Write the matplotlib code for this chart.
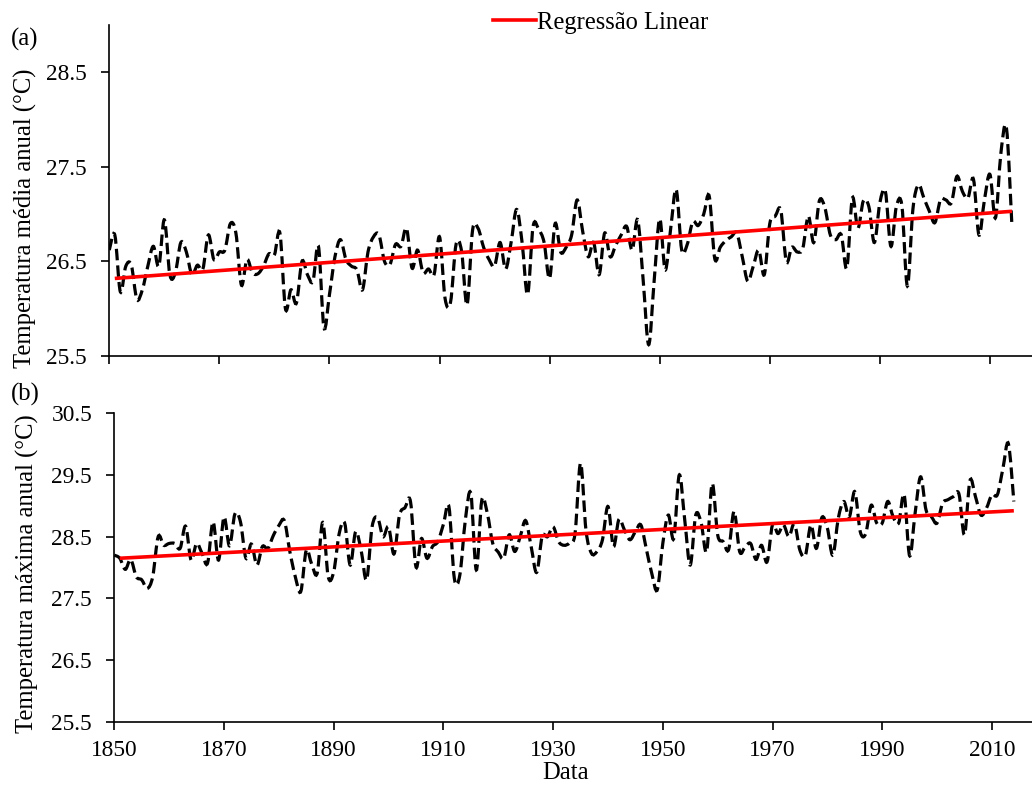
import matplotlib
matplotlib.use("Agg")
import matplotlib.pyplot as plt
from matplotlib.lines import Line2D
from matplotlib.path import Path
from matplotlib.patches import PathPatch
import numpy as np

plt.rcParams['font.family'] = ['Liberation Serif', 'DejaVu Serif']

years = list(range(1850, 2015))

media_anual = [
    26.62, 26.78, 26.18, 26.45, 26.46, 26.10, 26.20, 26.45, 26.66, 26.45,
    26.94, 26.36, 26.38, 26.70, 26.60, 26.36, 26.46, 26.42, 26.78, 26.52,
    26.60, 26.62, 26.90, 26.80, 26.25, 26.52, 26.38, 26.37, 26.45, 26.58,
    26.57, 26.80, 26.00, 26.20, 26.06, 26.50, 26.36, 26.29, 26.66, 25.80,
    26.15, 26.55, 26.73, 26.52, 26.45, 26.41, 26.20, 26.60, 26.76, 26.78,
    26.50, 26.47, 26.68, 26.66, 26.85, 26.43, 26.62, 26.38, 26.42, 26.36,
    26.76, 26.11, 26.07, 26.68, 26.61, 26.04, 26.83, 26.85, 26.65, 26.52,
    26.45, 26.70, 26.42, 26.70, 27.05, 26.70, 26.15, 26.87, 26.84, 26.70,
    26.32, 26.90, 26.60, 26.65, 26.78, 27.15, 26.82, 26.55, 26.70, 26.36,
    26.80, 26.55, 26.67, 26.78, 26.87, 26.62, 26.94, 26.30, 25.62, 26.30,
    26.95, 26.41, 26.85, 27.26, 26.62, 26.68, 26.92, 26.88, 27.00, 27.19,
    26.53, 26.65, 26.72, 26.76, 26.80, 26.55, 26.29, 26.45, 26.62, 26.36,
    26.90, 26.98, 27.04, 26.50, 26.65, 26.60, 26.64, 26.98, 26.70, 27.14,
    27.07, 26.78, 26.73, 26.78, 26.43, 27.17, 26.85, 27.14, 27.08, 26.70,
    27.12, 27.24, 26.66, 27.08, 27.09, 26.24, 27.05, 27.31, 27.17, 27.03,
    26.91, 27.15, 27.15, 27.12, 27.40, 27.24, 27.17, 27.37, 26.78, 27.15,
    27.42, 26.96, 27.65, 27.91, 26.87,
]

maxima_anual = [
    28.20, 28.15, 27.97, 28.13, 27.85, 27.80, 27.66, 27.85, 28.50, 28.36,
    28.39, 28.39, 28.31, 28.67, 28.12, 28.39, 28.23, 28.07, 28.74, 28.12,
    28.82, 28.35, 28.87, 28.74, 28.15, 28.38, 28.04, 28.34, 28.31, 28.52,
    28.68, 28.76, 28.26, 27.85, 27.61, 28.28, 28.05, 27.91, 28.73, 27.85,
    27.93, 28.55, 28.72, 28.04, 28.58, 28.28, 27.80, 28.66, 28.81, 28.50,
    28.66, 28.22, 28.85, 28.97, 29.07, 28.01, 28.47, 28.15, 28.34, 28.42,
    28.70, 28.99, 27.82, 27.88, 28.77, 29.20, 27.96, 29.09, 28.88, 28.39,
    28.25, 28.15, 28.53, 28.26, 28.50, 28.76, 28.34, 27.92, 28.50, 28.50,
    28.66, 28.42, 28.36, 28.40, 28.55, 29.69, 28.60, 28.23, 28.26, 28.45,
    28.99, 28.34, 28.78, 28.61, 28.45, 28.58, 28.69, 28.30, 27.90, 27.64,
    28.39, 28.85, 28.47, 29.50, 28.77, 28.04, 28.85, 28.72, 28.26, 29.36,
    28.53, 28.42, 28.29, 28.91, 28.26, 28.33, 28.39, 28.13, 28.36, 28.09,
    28.69, 28.55, 28.69, 28.50, 28.71, 28.28, 28.20, 28.69, 28.31, 28.81,
    28.64, 28.20, 28.80, 29.07, 28.82, 29.23, 28.58, 28.55, 29.01, 28.72,
    28.72, 29.07, 28.82, 28.72, 29.18, 28.19, 28.88, 29.47, 28.93, 28.82,
    28.72, 29.04, 29.10, 29.15, 29.19, 28.53, 29.41, 29.15, 28.85, 28.96,
    29.18, 29.18, 29.60, 30.01, 29.07,
]

trend_years = [1851, 2014]
trend_media = [26.32, 27.03]
trend_maxima = [28.15, 28.92]

xticks = [1850, 1870, 1890, 1910, 1930, 1950, 1970, 1990, 2010]
yticks_a = [25.5, 26.5, 27.5, 28.5]
yticks_b = [25.5, 26.5, 27.5, 28.5, 29.5, 30.5]

W, H = 1032, 785
fig = plt.figure(figsize=(W / 100, H / 100), dpi=100)

FS_TICK = 16.8
FS_LAB = 17.7


def px_axes(left, top, right, bottom):
    return [left / W, 1 - bottom / H, (right - left) / W, (bottom - top) / H]


def smooth_path(x, y):
    """Smoothed line through the data points (like a spreadsheet 'smoothed line')."""
    p = np.column_stack([np.asarray(x, float), np.asarray(y, float)])
    ext = np.vstack([p[0], p, p[-1]])
    verts = [p[0]]
    codes = [Path.MOVETO]
    for i in range(len(p) - 1):
        p0, p1, p2, p3 = ext[i], ext[i + 1], ext[i + 2], ext[i + 3]
        c1 = p1 + (p2 - p0) / 6.0
        c2 = p2 - (p3 - p1) / 6.0
        verts += [c1, c2, p2]
        codes += [Path.CURVE4] * 3
    return Path(verts, codes)


ax1 = fig.add_axes(px_axes(109.3, 25, W, 356))
ax2 = fig.add_axes(px_axes(114.3, 413.3, W, 721.7))

dash = (0, (3.6, 1.6))
for ax, data, trend, ylim, yt, x0, pxyr in [
    (ax1, media_anual, trend_media, (25.5, 29.0), yticks_a, 109.3, 5.504),
    (ax2, maxima_anual, trend_maxima, (25.5, 30.5), yticks_b, 114.3, 5.485),
]:
    patch = PathPatch(smooth_path(years, data), facecolor='none',
                      edgecolor='black', lw=2.3, linestyle=dash, zorder=2)
    ax.add_patch(patch)
    ax.plot(trend_years, trend, color='#ff0000', lw=2.6, zorder=3,
            solid_capstyle='butt')
    ax.set_xlim(1850, 1850 + (W - x0) / pxyr)
    ax.set_ylim(*ylim)
    ax.set_yticks(yt)
    ax.set_yticklabels([f"{v:.1f}" for v in yt])
    ax.set_xticks(xticks)
    for s in ['top', 'right']:
        ax.spines[s].set_visible(False)
    for s in ['left', 'bottom']:
        ax.spines[s].set_linewidth(1.2)
        ax.spines[s].set_color('black')
    ax.tick_params(axis='both', direction='out', length=6, width=1.2,
                   labelsize=FS_TICK, color='black')
    ax.tick_params(axis='y', pad=10)
    ax.tick_params(axis='x', pad=7)

ax1.tick_params(axis='x', labelbottom=False)
ax2.set_xticklabels([str(x) for x in xticks])

fig.text(25 / W, 1 - 218 / H, 'Temperatura média anual (°C)', rotation=90,
         ha='center', va='center', fontsize=FS_LAB)
fig.text(27 / W, 1 - 574 / H, 'Temperatura máxima anual (°C)', rotation=90,
         ha='center', va='center', fontsize=FS_LAB)
fig.text(25 / W, 1 - 39 / H, '(a)', ha='center', va='center', fontsize=FS_LAB)
fig.text(25 / W, 1 - 394 / H, '(b)', ha='center', va='center', fontsize=FS_LAB)
fig.text(566 / W, 1 - 784 / H, 'Data', ha='center', va='bottom', fontsize=FS_LAB)

handle = Line2D([], [], color='#ff0000', lw=2.6)
fig.legend([handle], ['Regressão Linear'], loc='center left',
           bbox_to_anchor=(493 / W, 1 - 22.5 / H), frameon=False,
           borderpad=0, borderaxespad=0, handlelength=1.75,
           handletextpad=0.05, fontsize=FS_LAB)

fig.savefig('out.png', dpi=100)
